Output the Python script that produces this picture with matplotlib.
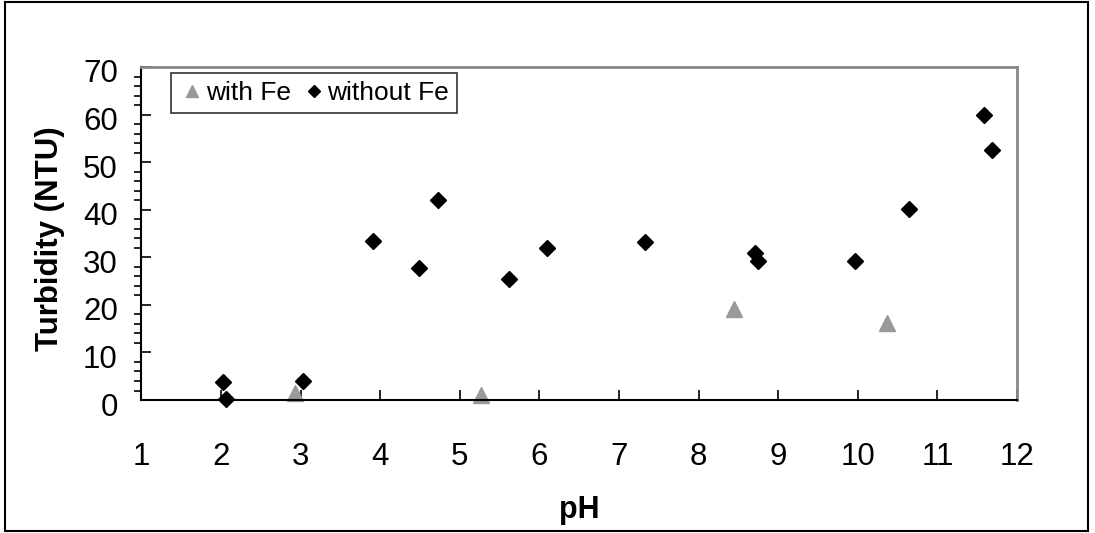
import matplotlib
matplotlib.use('Agg')
from matplotlib import pyplot as plt
from matplotlib.patches import Rectangle
from matplotlib.transforms import ScaledTranslation

plt.rcParams['font.family'] = ['Liberation Sans', 'DejaVu Sans']

# data
with_fe_ph = [2.93, 5.27, 8.45, 10.37]
with_fe_ntu = [1.4, 1.0, 19.2, 16.1]

without_fe_ph = [2.02, 2.06, 3.03, 3.91, 4.49, 4.72, 5.62, 6.10, 7.33,
                 8.71, 8.75, 9.96, 10.64, 11.58, 11.68]
without_fe_ntu = [3.8, 0.2, 4.0, 33.5, 27.8, 42.0, 25.4, 32.0, 33.2,
                  31.0, 29.2, 29.3, 40.1, 59.9, 52.6]

x_ticks = list(range(1, 13))
y_ticks = list(range(0, 71, 10))

fig = plt.figure(figsize=(10.95, 5.33), dpi=100)
ax = fig.add_axes([0.1292, 0.2495, 0.7996, 0.6248])

ax.plot(with_fe_ph, with_fe_ntu, linestyle='none', marker='^',
        markersize=11.5, color='#999999', label='with Fe', clip_on=False)
ax.plot(without_fe_ph, without_fe_ntu, linestyle='none', marker='D',
        markersize=7.7, color='black', label='without Fe', clip_on=False)

ax.set_xlim(1, 12)
ax.set_ylim(0, 70)
ax.set_xticks(x_ticks)
ax.set_yticks(y_ticks)
ax.set_yticks(range(0, 71, 2), minor=True)

ax.tick_params(axis='both', direction='in', labelsize=22.5, width=1.2)
ax.tick_params(axis='x', length=7, pad=30)
ax.tick_params(axis='y', which='major', length=7, pad=17)
ax.tick_params(axis='y', which='minor', length=5, width=1.2)
ax.tick_params(top=False, right=False, which='both')

# y labels sit a little below their ticks in the original
shift = ScaledTranslation(0, -4 / 100, fig.dpi_scale_trans)
for lbl in ax.get_yticklabels():
    lbl.set_transform(lbl.get_transform() + shift)

for side in ['left', 'bottom']:
    ax.spines[side].set_color('black')
    ax.spines[side].set_linewidth(1.5)
for side in ['top', 'right']:
    ax.spines[side].set_color('#888888')
    ax.spines[side].set_linewidth(2)

ax.set_xlabel('pH', fontsize=22, fontweight='bold')
ax.xaxis.set_label_coords(0.5, -0.285)
ax.xaxis.label.set_va('top')
ax.set_ylabel('Turbidity (NTU)', fontsize=22.5, fontweight='bold')
ax.yaxis.set_label_coords(-0.087, 0.485)

leg = ax.legend(loc='upper left', bbox_to_anchor=(0.034, 0.982), ncol=2,
                fontsize=19, frameon=True, fancybox=False, borderaxespad=0,
                handletextpad=0.0, columnspacing=0.4, handlelength=1.0,
                borderpad=0.3, markerscale=0.8)
leg.get_frame().set_edgecolor('black')
leg.get_frame().set_linewidth(1.2)

fig.patches.append(Rectangle((0.005, 0.004), 0.989, 0.992, transform=fig.transFigure,
                             fill=False, edgecolor='black', linewidth=1.5))

fig.savefig('out.png', dpi=100)
